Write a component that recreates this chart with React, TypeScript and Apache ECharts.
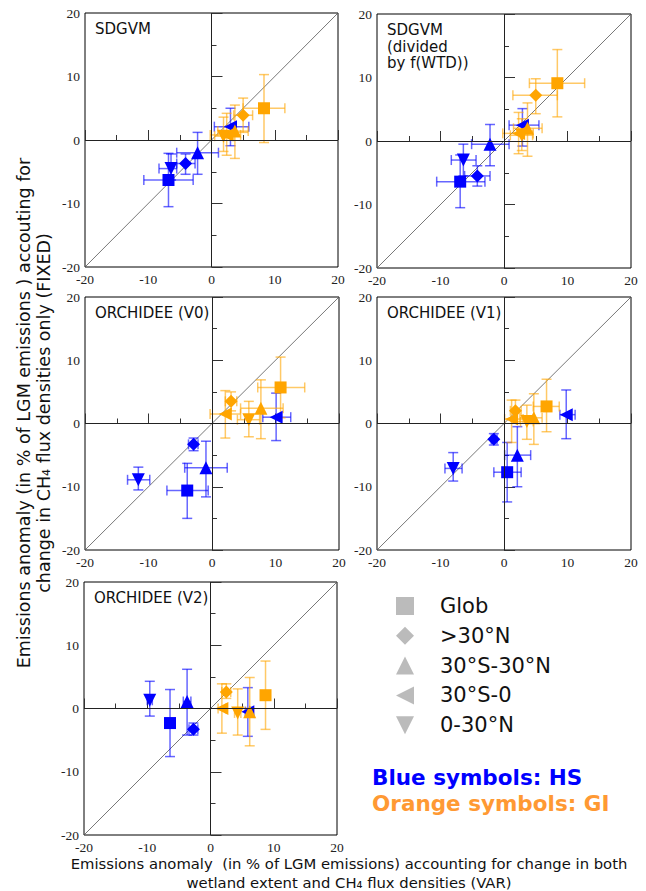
import React, { useEffect, useRef } from 'react';
import * as echarts from 'echarts';

const regions = ['Glob', '>30°N', '30°S-30°N', '30°S-0', '0-30°N'];
const regionSymbols = ['rect', 'diamond', 'triangle', 'triangle', 'triangle'];
const regionRotations = [0, 0, 0, 90, 180];
const panelTitles = ['SDGVM', 'SDGVM\n(divided\nby f(WTD))', 'ORCHIDEE (V0)', 'ORCHIDEE (V1)', 'ORCHIDEE (V2)'];
const tickLabels = [-20, -10, 0, 10, 20];

// rows follow `regions`: [x, y, xLow, xHigh, yLow, yHigh]
const sdgvmHS = [
  [-6.8, -6.3, -10.7, -2.9, -10.5, -2.1],
  [-4.1, -3.7, -5.5, -2.6, -5.4, -2.2],
  [-2.2, -2.0, -5.5, 1.1, -5.4, 1.2],
  [3.0, 2.1, 0.45, 5.9, -0.9, 5.0],
  [-6.4, -4.5, -8.3, -5.5, -6.3, -2.2],
];
const sdgvmGI = [
  [8.3, 5.0, 5.0, 11.6, -0.4, 10.3],
  [5.0, 3.9, 3.5, 6.5, 1.2, 6.6],
  [3.7, 1.4, 1.0, 5.8, -2.9, 5.5],
  [2.4, 0.8, -0.2, 4.6, -2.4, 4.2],
  [1.9, 0.6, 0.5, 3.5, -1.8, 3.6],
];
const sdgvmWtdHS = [
  [-6.9, -6.4, -10.6, -3.0, -10.5, -2.2],
  [-4.2, -5.5, -6.2, -2.2, -7.1, -3.9],
  [-2.2, -0.5, -5.1, 0.8, -3.9, 2.6],
  [2.9, 2.5, 0.8, 5.5, -0.8, 5.1],
  [-6.4, -3.0, -8.3, -4.4, -5.5, -0.5],
];
const sdgvmWtdGI = [
  [8.4, 9.1, 4.0, 12.7, 3.8, 14.4],
  [5.0, 7.2, 1.4, 8.4, 4.3, 9.8],
  [3.7, 2.0, 1.5, 6.0, -2.4, 6.0],
  [2.3, 1.2, -0.2, 4.6, -2.0, 4.5],
  [2.8, 0.9, 1.0, 4.5, -1.5, 3.5],
];
const orchV0HS = [
  [-3.9, -10.6, -7.1, -0.6, -15.0, -6.3],
  [-2.9, -3.3, -3.7, -2.2, -4.3, -2.3],
  [-0.95, -7.0, -4.3, 2.4, -11.6, -2.8],
  [10.1, 1.0, 8.0, 12.4, -2.7, 4.8],
  [-11.6, -8.9, -13.3, -9.8, -10.5, -6.9],
];
const orchV0GI = [
  [10.8, 5.7, 7.2, 14.6, 0.9, 10.5],
  [3.0, 3.5, 2.1, 3.9, 2.0, 5.0],
  [7.7, 2.4, 4.5, 11.2, -2.4, 6.9],
  [2.1, 1.5, -0.3, 4.5, -2.3, 5.2],
  [5.8, 0.6, 4.0, 7.5, -2.1, 3.5],
];
const orchV1HS = [
  [0.5, -7.7, -1.6, 2.7, -12.4, -3.0],
  [-1.6, -2.5, -2.0, -1.1, -3.4, -1.6],
  [2.1, -5.0, 0.1, 4.2, -10.0, -0.5],
  [9.8, 1.4, 8.8, 11.2, -2.4, 5.3],
  [-8.0, -7.1, -9.3, -6.6, -9.1, -4.6],
];
const orchV1GI = [
  [6.7, 2.7, 4.6, 8.7, -1.3, 7.0],
  [1.8, 2.0, 1.0, 2.7, 0.3, 3.7],
  [4.7, 0.9, 2.5, 6.0, -3.3, 4.7],
  [1.2, 0.7, 0.1, 3.0, -3.0, 3.7],
  [3.6, 0.3, 2.6, 4.6, -2.5, 2.9],
];
const orchV2HS = [
  [-6.4, -2.3, -7.0, -5.8, -7.6, 3.0],
  [-2.7, -3.3, -3.4, -2.0, -4.2, -2.3],
  [-3.7, 1.1, -4.3, -3.1, -4.2, 6.2],
  [5.9, -0.5, 5.5, 6.3, -4.4, 3.3],
  [-9.6, 1.3, -10.0, -9.2, -1.2, 4.3],
];
const orchV2GI = [
  [8.7, 2.1, 8.2, 9.2, -3.3, 7.5],
  [2.5, 2.6, 1.8, 3.2, 1.6, 3.9],
  [6.2, -0.5, 5.6, 6.8, -5.9, 4.9],
  [1.8, 0.0, 1.2, 2.4, -3.9, 3.9],
  [4.3, -0.7, 3.8, 4.8, -4.2, 3.1],
];

const panelsHS = [sdgvmHS, sdgvmWtdHS, orchV0HS, orchV1HS, orchV2HS];
const panelsGI = [sdgvmGI, sdgvmWtdGI, orchV0GI, orchV1GI, orchV2GI];

const BLUE = '#0000ff';
const ORANGE = '#ffa500';
const ORANGE_TEXT = '#ff9933';

const grids = [
  { left: 85, top: 13, width: 253, height: 254 },
  { left: 377, top: 14, width: 254, height: 254 },
  { left: 85, top: 297, width: 254, height: 253 },
  { left: 377, top: 297, width: 254, height: 253 },
  { left: 84, top: 582, width: 253, height: 253 },
];

function errorBarSeries(i: number, rows: number[][], color: string) {
  return {
    type: 'custom',
    xAxisIndex: i,
    yAxisIndex: i,
    silent: true,
    z: 2,
    data: rows,
    renderItem: (params: any, api: any) => {
      const x = api.value(0), y = api.value(1);
      const xl = api.value(2), xh = api.value(3), yl = api.value(4), yh = api.value(5);
      const pL = api.coord([xl, y]);
      const pR = api.coord([xh, y]);
      const pB = api.coord([x, yl]);
      const pT = api.coord([x, yh]);
      const c = 5;
      const style = { stroke: color, lineWidth: 1.5, opacity: 0.6 };
      const seg = (x1: number, y1: number, x2: number, y2: number) => ({
        type: 'line', shape: { x1, y1, x2, y2 }, style,
      });
      return {
        type: 'group',
        children: [
          seg(pL[0], pL[1], pR[0], pR[1]),
          seg(pL[0], pL[1] - c, pL[0], pL[1] + c),
          seg(pR[0], pR[1] - c, pR[0], pR[1] + c),
          seg(pB[0], pB[1], pT[0], pT[1]),
          seg(pB[0] - c, pB[1], pB[0] + c, pB[1]),
          seg(pT[0] - c, pT[1], pT[0] + c, pT[1]),
        ],
      };
    },
  };
}

function markerSeries(i: number, rows: number[][], color: string) {
  return {
    type: 'scatter',
    xAxisIndex: i,
    yAxisIndex: i,
    silent: true,
    z: 3,
    itemStyle: { color, opacity: 1 },
    data: rows.map((r, k) => ({
      value: [r[0], r[1]],
      symbol: regionSymbols[k],
      symbolRotate: regionRotations[k],
      symbolSize: k === 0 ? 12 : 13,
    })),
  };
}

export default function App() {
  const ref = useRef<HTMLDivElement>(null);
  useEffect(() => {
    if (!ref.current) return;
    const chart = echarts.init(ref.current, null, { renderer: 'svg' });
    const labelFmt = (v: number) => (tickLabels.includes(v) ? String(v) : '');
    const axisCommon = (i: number, major: number) => ({
      type: 'value', gridIndex: i, min: -20, max: 20, interval: 10,
      axisLine: { show: false },
      axisTick: { show: true, inside: true, length: major, lineStyle: { color: '#333' } },
      minorTick: { show: true, splitNumber: 2, length: 5, lineStyle: { color: '#333' } },
      splitLine: { show: false },
      axisLabel: {
        formatter: labelFmt, showMinLabel: true, showMaxLabel: true,
        fontFamily: 'Liberation Serif', fontSize: 13.5, color: '#222', margin: 5,
      },
    });
    const xAxes = grids.map((_, i) => axisCommon(i, 10));
    const yAxes = grids.map((_, i) => axisCommon(i, 11));
    const series: any[] = [];
    grids.forEach((_, i) => {
      series.push({
        type: 'line', xAxisIndex: i, yAxisIndex: i, silent: true, symbol: 'none', z: 1,
        data: [[-20, -20], [20, 20]],
        lineStyle: { color: '#555', width: 0.8 },
        markLine: {
          silent: true, symbol: 'none', label: { show: false },
          lineStyle: { color: '#222', width: 1, type: 'solid' },
          data: [{ xAxis: 0 }, { yAxis: 0 }],
        },
      });
      series.push(errorBarSeries(i, panelsHS[i], BLUE));
      series.push(errorBarSeries(i, panelsGI[i], ORANGE));
      series.push(markerSeries(i, panelsHS[i], BLUE));
      series.push(markerSeries(i, panelsGI[i], ORANGE));
    });

    const graphics: any[] = [];
    grids.forEach((g, i) => {
      graphics.push({
        type: 'text', left: g.left + 10, top: g.top + 8,
        style: { text: panelTitles[i], fontFamily: 'DejaVu Sans', fontSize: 15, lineHeight: 16.5, fill: '#111' },
      });
    });
    // legend
    const lx = 405, ly0 = 606, dy = 29.8, s = 9;
    const gray = '#bbbbbb';
    regions.forEach((name, k) => {
      const cy = ly0 + k * dy;
      let shape: any;
      if (k === 0) shape = { type: 'rect', shape: { x: lx - s, y: cy - s, width: 2 * s, height: 2 * s }, style: { fill: gray } };
      else if (k === 1) shape = { type: 'polygon', shape: { points: [[lx, cy - s], [lx + s, cy], [lx, cy + s], [lx - s, cy]] }, style: { fill: gray } };
      else if (k === 2) shape = { type: 'polygon', shape: { points: [[lx, cy - s], [lx + s, cy + s], [lx - s, cy + s]] }, style: { fill: gray } };
      else if (k === 3) shape = { type: 'polygon', shape: { points: [[lx - s, cy], [lx + s, cy - s], [lx + s, cy + s]] }, style: { fill: gray } };
      else shape = { type: 'polygon', shape: { points: [[lx - s, cy - s], [lx + s, cy - s], [lx, cy + s]] }, style: { fill: gray } };
      graphics.push(shape);
      graphics.push({
        type: 'text', x: 440, y: cy,
        style: { text: name, fontFamily: 'DejaVu Sans', fontSize: 21, fill: '#111', verticalAlign: 'middle' },
      });
    });
    graphics.push({
      type: 'text', x: 372, y: 777,
      style: { text: 'Blue symbols: HS', fontFamily: 'DejaVu Sans', fontWeight: 'bold', fontSize: 21.5, fill: BLUE, verticalAlign: 'middle' },
    });
    graphics.push({
      type: 'text', x: 372, y: 803,
      style: { text: 'Orange symbols: GI', fontFamily: 'DejaVu Sans', fontWeight: 'bold', fontSize: 21.5, fill: ORANGE_TEXT, verticalAlign: 'middle' },
    });
    // axis titles
    graphics.push({
      type: 'text', x: 34, y: 413, rotation: Math.PI / 2,
      style: {
        text: 'Emissions anomaly (in % of LGM emissions ) accouting for\nchange in CH\u2084 flux densities only (FIXED)',
        fontFamily: 'DejaVu Sans', fontSize: 17.5, lineHeight: 20, fill: '#111', align: 'center', verticalAlign: 'middle',
      },
    });
    graphics.push({
      type: 'text', x: 349, y: 872.5,
      style: {
        text: 'Emissions anomaly  (in % of LGM emissions) accounting for change in both\nwetland extent and CH\u2084 flux densities (VAR)',
        fontFamily: 'DejaVu Sans', fontSize: 14.8, lineHeight: 19, fill: '#111', align: 'center', verticalAlign: 'middle',
      },
    });

    chart.setOption({
      animation: false,
      backgroundColor: '#ffffff',
      grid: grids.map((g) => ({ ...g, show: true, borderColor: '#000', borderWidth: 1, backgroundColor: 'transparent' })),
      xAxis: xAxes,
      yAxis: yAxes,
      series,
      graphic: graphics,
    });
    return () => chart.dispose();
  }, []);
  return <div ref={ref} style={{ position: 'absolute', left: 0, top: 0, width: 646, height: 891 }} />;
}
